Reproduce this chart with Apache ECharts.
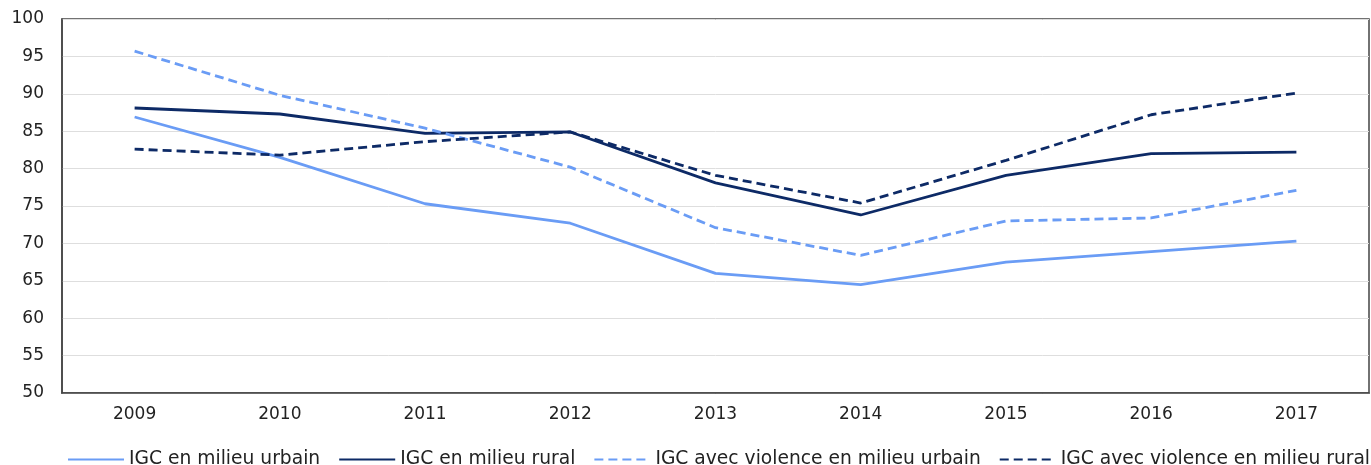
<!DOCTYPE html>
<html>
<head>
<meta charset="utf-8">
<script src="https://cdn.jsdelivr.net/npm/echarts@6/dist/echarts.min.js"></script>
<style>
  html, body { margin: 0; padding: 0; background: #ffffff; }
  #chart { width: 1371px; height: 465px; }
</style>
</head>
<body>
<div id="chart"></div>
<script>
// Years on the horizontal axis
const years = ['2009', '2010', '2011', '2012', '2013', '2014', '2015', '2016', '2017'];

// Indicator values per year
const igcUrbain = [86.9, 81.5, 75.3, 72.7, 66.0, 64.5, 67.5, 68.9, 70.3];
const igcRural = [88.1, 87.3, 84.7, 84.9, 78.1, 73.8, 79.1, 82.0, 82.2];
const igcViolenceUrbain = [95.7, 89.8, 85.4, 80.2, 72.1, 68.4, 73.0, 73.4, 77.1];
const igcViolenceRural = [82.6, 81.8, 83.6, 84.9, 79.1, 75.4, 81.1, 87.2, 90.1];

const seriesNames = [
  'IGC en milieu urbain',
  'IGC en milieu rural',
  'IGC avec violence en milieu urbain',
  'IGC avec violence en milieu rural'
];

const lightBlue = '#6a9cf5';
const navy = '#0d2a66';
const fontFamily = '"DejaVu Sans", Verdana, sans-serif';

function lineSeries(name, data, color, dashed) {
  return {
    name: name,
    type: 'line',
    data: data,
    symbol: 'none',
    smooth: false,
    lineStyle: { color: color, width: 2.8, type: dashed ? [9, 5] : 'solid' },
    itemStyle: { color: color }
  };
}

const chart = echarts.init(document.getElementById('chart'), null, { renderer: 'canvas' });
chart.setOption({
  animation: false,
  backgroundColor: '#ffffff',
  textStyle: { fontFamily: fontFamily },
  grid: {
    left: 62, top: 19, width: 1307, height: 374,
    show: true, borderColor: '#444444', borderWidth: 1.5, backgroundColor: 'transparent'
  },
  xAxis: {
    type: 'category',
    data: years,
    boundaryGap: true,
    axisLine: { show: true, lineStyle: { color: '#444444', width: 1.5 } },
    axisTick: { show: false },
    axisLabel: { color: '#222222', fontSize: 17, margin: 13, fontFamily: fontFamily },
    splitLine: { show: false }
  },
  yAxis: {
    type: 'value',
    min: 50, max: 100, interval: 5,
    axisLine: { show: true, lineStyle: { color: '#444444', width: 1.5 } },
    axisTick: { show: false },
    axisLabel: { color: '#222222', fontSize: 17, margin: 18, fontFamily: fontFamily },
    splitLine: { show: true, lineStyle: { color: '#dedede', width: 1, type: 'solid' } }
  },
  legend: {
    top: 450,
    left: 67,
    padding: 0,
    itemWidth: 56,
    itemHeight: 10,
    itemGap: 18,
    itemStyle: { opacity: 0 },
    textStyle: { color: '#222222', fontSize: 18.7, fontFamily: fontFamily },
    data: seriesNames
  },
  series: [
    lineSeries(seriesNames[0], igcUrbain, lightBlue, false),
    lineSeries(seriesNames[1], igcRural, navy, false),
    lineSeries(seriesNames[2], igcViolenceUrbain, lightBlue, true),
    lineSeries(seriesNames[3], igcViolenceRural, navy, true)
  ]
});
</script>
</body>
</html>
